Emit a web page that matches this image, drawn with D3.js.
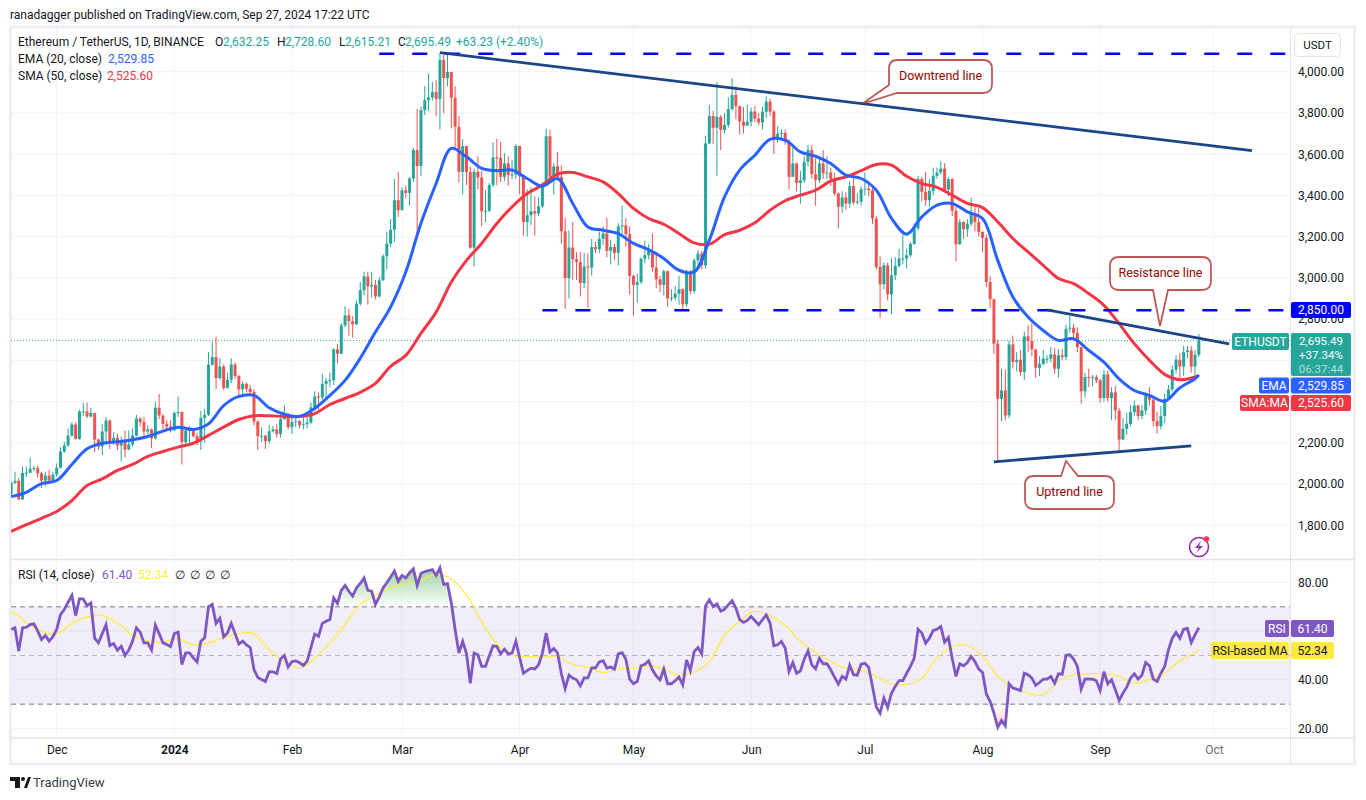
<!DOCTYPE html>
<html>
<head>
<meta charset="utf-8">
<title>ETHUSDT 1D</title>
<script src="https://cdn.jsdelivr.net/npm/d3@7"></script>
<style>
  html, body { margin: 0; padding: 0; background: #fff; }
  svg { display: block; font-family: Roboto, sans-serif; }
  .tick line { display: none; }
  .domain { display: none; }
</style>
</head>
<body>
<svg id="chart" width="1366" height="800"></svg>
<script>
// daily candles, first one is 19 Nov 2023, one value per day. open = previous close
const firstOpen = 1952;
const closes = [
  2006,2016,1925,2054,2055,2074,2077,2052,2017,2041,2017,2046,
  2080,2158,2187,2235,2289,2219,2352,2352,2328,2345,2216,2182,2255,2308,2203,2224,2187,2214,2167,2192,2235,2318,2300,2255,2265,2222,2370,2332,2292,2279,2260,
  2345,2349,2203,2260,2262,2232,2208,2321,2336,2579,2616,2514,2570,2465,2506,2580,2524,2459,2486,2462,2446,2303,2232,2234,2208,2256,2265,2243,2315,2340,2276,
  2300,2305,2285,2290,2298,2372,2425,2420,2486,2500,2505,2653,2632,2770,2818,2790,2775,2875,2940,3007,2959,2965,2910,2988,3105,3166,3234,3377,3328,
  3425,3412,3482,3620,3542,3814,3862,3875,3901,3868,4057,3969,3998,3874,3733,3514,3639,3514,3147,3514,3487,3323,3325,3450,3584,3582,3490,3555,3498,3501,3640,
  3493,3271,3304,3323,3312,3347,3450,3687,3490,3541,3490,3226,2999,3147,3090,3077,2975,3055,3050,3150,3139,3190,3215,3131,3150,3121,3250,3255,3212,3010,
  2966,2979,3093,3110,3130,3050,2993,2966,3032,2901,2903,2923,2945,2872,3028,2936,3085,3118,3061,3652,3785,3728,3781,3717,3741,3819,3887,3833,3758,3738,3757,
  3807,3773,3754,3806,3855,3806,3676,3700,3703,3660,3490,3555,3460,3473,3563,3620,3503,3474,3555,3506,3511,3480,3409,3345,3390,3360,3445,3366,3370,3430,
  3433,3425,3288,3053,2969,3061,2920,3012,3058,3094,3094,3110,3165,3240,3480,3417,3377,3422,3495,3511,3530,3428,3479,3325,3163,3271,3236,3263,3312,3271,3223,
  3194,2980,2896,2681,2413,2454,2333,2677,2592,2603,2543,2716,2694,2653,2564,2583,2608,2608,2629,2559,2624,2616,2753,2758,2733,2664,2450,2519,2518,2518,2503,
  2417,2532,2417,2445,2357,2216,2268,2292,2349,2381,2330,2357,2430,2409,2305,2281,2330,2413,2459,2555,2603,2570,2640,2648,2570,2627,2695.49
];
const highs = [
  2012,2060,2030,2085,2085,2129,2088,2090,2060,2060,2070,2060,
  2100,2178,2205,2270,2300,2300,2360,2395,2395,2370,2345,2220,2290,2325,2312,2252,2245,2230,2260,2260,2270,2335,2325,2325,2285,2270,2400,2438,2340,2310,2312,
  2350,2425,2352,2275,2280,2268,2250,2355,2365,2640,2690,2715,2610,2580,2540,2610,2590,2530,2497,2492,2480,2460,2310,2275,2240,2285,2282,2290,2342,2382,2345,
  2330,2325,2310,2335,2330,2395,2450,2445,2535,2515,2540,2660,2680,2780,2862,2850,2815,2890,2980,3030,3030,3030,2990,3005,3115,3223,3285,3480,3516,
  3440,3450,3490,3630,3820,3830,3930,3990,3950,3960,4090,4083,4085,3998,3930,3785,3672,3640,3540,3530,3590,3520,3425,3460,3658,3675,3660,3605,3590,3570,3648,
  3640,3498,3430,3440,3395,3390,3465,3725,3720,3555,3610,3545,3290,3230,3270,3125,3125,3120,3120,3190,3175,3225,3250,3290,3185,3165,3265,3350,3290,3250,
  3015,3020,3100,3180,3165,3215,3115,3010,3040,3035,2945,2960,3010,2950,3040,3040,3095,3135,3130,3690,3840,3810,3950,3790,3800,3875,3970,3930,3835,3830,3840,
  3825,3835,3800,3830,3880,3870,3815,3735,3720,3720,3672,3630,3560,3520,3590,3645,3645,3580,3590,3620,3590,3535,3510,3415,3420,3415,3470,3490,3410,3445,
  3510,3470,3442,3300,3105,3075,3075,3095,3100,3140,3210,3142,3175,3265,3495,3490,3515,3480,3535,3535,3565,3556,3490,3485,3345,3285,3275,3285,3390,3345,3340,
  3225,3210,3010,2900,2700,2560,2555,2695,2720,2640,2650,2740,2770,2780,2655,2620,2650,2625,2665,2660,2655,2655,2772,2815,2775,2760,2665,2540,2560,2530,2530,
  2510,2555,2550,2470,2475,2370,2320,2345,2385,2405,2385,2385,2445,2470,2420,2350,2378,2440,2480,2575,2625,2635,2670,2670,2670,2650,2728.6
];
const lows = [
  1940,2000,1925,1925,2035,2052,2062,2032,1980,1990,2010,2010,
  2036,2075,2150,2180,2230,2215,2215,2330,2320,2320,2155,2165,2140,2190,2170,2190,2165,2110,2130,2165,2180,2230,2280,2235,2240,2175,2215,2315,2265,2255,2250,
  2260,2325,2095,2190,2195,2225,2190,2165,2200,2330,2575,2460,2505,2455,2465,2490,2510,2415,2420,2445,2430,2285,2165,2205,2170,2195,2250,2225,2225,2312,2265,
  2242,2275,2270,2265,2270,2290,2355,2360,2410,2410,2470,2480,2585,2630,2760,2720,2710,2770,2865,2915,2870,2905,2895,2905,2985,3040,3150,3175,3295,
  3330,3385,3350,3465,3210,3495,3790,3810,3860,3785,3720,3800,3930,3725,3620,3463,3405,3450,3140,3055,3430,3250,3270,3320,3440,3450,3465,3470,3445,3480,3480,
  3405,3205,3200,3255,3205,3300,3340,3450,3485,3405,3480,3165,2850,2900,2990,2990,2910,2950,2855,3010,3120,3120,3160,3100,3065,3085,3060,3215,3150,2920,
  2815,2880,2970,3070,3090,3030,2950,2930,2915,2860,2885,2890,2870,2850,2860,2920,2925,3060,3040,3045,3650,3650,3495,3620,3700,3730,3810,3770,3695,3700,3740,
  3735,3755,3740,3720,3775,3785,3600,3655,3665,3645,3428,3500,3420,3360,3460,3540,3480,3350,3460,3480,3480,3445,3400,3240,3315,3330,3340,3355,3355,3350,
  3400,3395,3260,3040,2805,2945,2890,2825,2990,3050,3065,3045,3100,3160,3230,3370,3350,3345,3400,3480,3500,3415,3395,3300,3080,3160,3190,3200,3250,3225,3200,
  3125,2955,2855,2630,2105,2305,2310,2320,2560,2545,2525,2505,2640,2620,2515,2525,2575,2585,2590,2535,2515,2600,2600,2735,2710,2640,2390,2420,2470,2475,2490,
  2395,2400,2400,2310,2310,2150,2215,2240,2280,2330,2310,2315,2335,2380,2280,2245,2265,2295,2410,2450,2535,2500,2525,2610,2540,2525,2615.21
];

// moving averages read every 4 days from 19 Nov 2023, then the last value on 27 Sep
const emaValues = [
  1939,1960,2002,2017,2095,2171,2198,2205,2215,2231,2257,2276,2265,2292,2380,2425,2430,2370,2339,2329,
  2367,2430,2503,2610,2737,2859,3029,3265,3458,3628,3587,3531,3520,3523,3482,3445,3482,3361,3247,
  3231,3215,3167,3137,3094,3037,3029,3183,3393,3523,3595,3672,3668,3611,3590,3555,3498,3482,3425,
  3289,3212,3296,3353,3361,3320,3288,3085,2907,2810,2745,2697,2705,2648,2591,2510,2454,2430,2402,2467,2511,2529.85
];
const smaValues = [
  1771,1803,1834,1867,1920,1993,2025,2066,2095,2134,2158,2179,2198,2236,2276,2313,2331,2331,2328,2328,
  2342,2386,2415,2445,2488,2571,2624,2731,2834,2980,3085,3167,3264,3344,3409,3450,3503,3511,3490,
  3466,3409,3337,3288,3260,3215,3170,3163,3210,3231,3267,3328,3374,3401,3425,3470,3490,3520,3550,
  3547,3493,3458,3439,3401,3361,3341,3272,3191,3126,3061,2997,2972,2924,2867,2778,2681,2600,2532,2506,2519,2525.6
];

// RSI, one value per day, same days as the candles
const rsiValues = [
  60.7,61.4,51.8,61.4,61.6,62.7,63,60,56.6,58.2,55.9,57.7,
  60.7,66.8,68.9,71.9,74.7,66.4,73.3,73.3,70.5,71.6,57.1,55.2,59,62.7,54.1,54.9,52.2,53.8,50,52.2,55.9,61.4,59.6,55.2,55.2,52.2,62.5,59,55.2,54.5,53.6,
  59,59.6,46.3,51.1,51.1,49,47.3,55.9,57.3,70,71,63.2,65.3,57.7,59.3,63.2,59,54.7,55.9,54.4,53.3,44.2,41,40.1,39.3,43.3,43.3,42.6,48.6,50,45.3,
  47.5,47.8,47,45.9,47.7,53.2,58.8,57.9,63.2,64.1,64.8,73.7,71.4,76.8,78.8,76.4,74.4,77.8,79.6,81.9,76.8,76.4,71,74.1,77.8,
  79.9,82.3,84.7,80.5,82.9,81.9,84,85.6,78.8,83.7,84.5,84.9,85.3,82.9,86,79.2,79.5,71.6,60.7,51,55.8,50.7,38.6,51,50.3,45.5,45.5,49.9,54,53.7,50.7,
  52.6,50.7,51,55.9,49.3,42.7,43.8,44.8,44.5,46.2,51,59.2,51.4,52.9,51,42.5,36.4,41.9,40.7,40,37.5,40.8,40.8,44.9,44.9,47.4,47.9,44.8,45.3,44.4,
  50.7,51.2,48.5,40.3,38.4,39.3,45.8,46.4,47.8,44.1,41.6,40,44.4,38.4,38.4,39.6,41.1,37.9,48.2,43.8,51.6,53.3,50.7,70.4,72.9,70.1,71.2,68.2,69,70.8,72.5,
  69.5,64.7,63.6,64.4,66,64.4,62.6,64.7,66.7,63.3,54,54.4,55.8,53,43.4,47.1,42.7,43.7,48.5,51.9,46.2,44.5,48.9,46.6,46.6,44.1,41.1,38.2,41.4,40.3,
  46,42.1,41.9,46.4,46.8,45.1,37.3,28.8,26.3,32.5,28.6,34.5,37.3,39.7,39.7,42.7,45.5,48.9,60.8,59.2,55.1,57.1,60.3,60.8,61.9,55.5,57.4,48.9,41.4,46.6,45.8,
  47.1,49.6,47.5,44.4,43,34.2,31.1,26.3,20.5,23.3,21.1,38.4,36.6,36.2,35.6,42.7,42.1,40.7,37.7,38.9,40.3,40.3,41.4,38.6,42.5,42.3,50.1,50.3,48.5,45.5,36.2,
  40.3,40.4,40.3,39.6,35.6,43.4,38.4,40,35.9,31.5,34.5,37,40.7,42.5,40.3,41.9,47.1,45.8,40.3,39.3,42.7,45.5,52.3,57.1,59.5,57.1,60.8,61.1,55.3,58.5,61.4
];
const rsiMaValues = [
  68.2,63.7,60,59,63.2,65.9,66.4,63.4,58.2,55.9,55.6,56.8,54.4,55.2,57.3,59,59,52.2,47.3,44.9,
  48.6,55.2,62.7,71,74.7,77.8,79.6,81,83.3,81.4,74.9,64,54.8,50,49.6,49.3,49.6,46.3,45.2,
  43,44.4,44.8,45.6,44.4,41.9,43.3,47.5,58.5,64,68.2,66.3,62.2,55.8,51.2,47.5,44.8,44.1,41.4,
  38.4,38.1,40.7,48.9,53.7,54,49.9,41.4,37,34.5,33.8,39.6,42.1,42.5,42.5,41.4,38.6,40,42.7,47.9,51.2,52.34
];

const priceTicks = [1800,2000,2200,2400,2600,2800,3000,3200,3400,3600,3800,4000];
const priceLabels = [1800,2000,2200,2400,2800,3000,3200,3400,3600,3800,4000];
const rsiGrid = [20,40,60,80];
const rsiLabels = [20,40,80];
const monthLabels = ['Dec','2024','Feb','Mar','Apr','May','Jun','Jul','Aug','Sep','Oct'];
const monthDates = [
  new Date(Date.UTC(2023,11,1)), new Date(Date.UTC(2024,0,1)), new Date(Date.UTC(2024,1,1)),
  new Date(Date.UTC(2024,2,1)), new Date(Date.UTC(2024,3,1)), new Date(Date.UTC(2024,4,1)),
  new Date(Date.UTC(2024,5,1)), new Date(Date.UTC(2024,6,1)), new Date(Date.UTC(2024,7,1)),
  new Date(Date.UTC(2024,8,1)), new Date(Date.UTC(2024,9,1))
];

// drawn levels and trend lines: [date, price]
const topLevel = 4087, midLevel = 2843;
const downtrendLine = [[Date.UTC(2024,2,11),4092],[Date.UTC(2024,9,11),3617]];
const resistanceLine = [[Date.UTC(2024,7,18),2845],[Date.UTC(2024,9,5),2680]];
const uptrendLine = [[Date.UTC(2024,7,4),2108],[Date.UTC(2024,8,25),2185]];

const UP = '#26a69a', DOWN = '#ef5350', EMA = '#2962ff', SMA = '#f23645', RSI = '#7e57c2', RSIMA = '#ffeb3b';
const GRID = '#f0f3fa', TEXT = '#131722', LEVEL = '#0000ff', TREND = '#1c4587', NOTE = '#990000';

const firstDay = new Date(Date.UTC(2023,10,19));
const dayAt = i => d3.utcDay.offset(firstDay, i);

const x = d3.scaleUtc().domain([monthDates[0], monthDates[10]]).range([56.7, 1214]);
const y = d3.scaleLinear().domain([1800, 4000]).range([525.3, 71.7]);
const yr = d3.scaleLinear().domain([20, 80]).range([728.5, 582.5]);

const svg = d3.select('#chart');
const defs = svg.append('defs');
defs.append('clipPath').attr('id', 'pricePane').append('rect').attr('x', 11).attr('y', 28).attr('width', 1279).attr('height', 531);
defs.append('clipPath').attr('id', 'above70').append('rect').attr('x', 11).attr('y', 560).attr('width', 1279).attr('height', yr(70) - 560);
defs.append('clipPath').attr('id', 'below30').append('rect').attr('x', 11).attr('y', yr(30)).attr('width', 1279).attr('height', 737 - yr(30));

const obGrad = defs.append('linearGradient').attr('id', 'obFill').attr('gradientUnits', 'userSpaceOnUse')
  .attr('x1', 0).attr('x2', 0).attr('y1', 568).attr('y2', yr(70));
obGrad.append('stop').attr('offset', 0).attr('stop-color', '#4caf50').attr('stop-opacity', 0.55);
obGrad.append('stop').attr('offset', 1).attr('stop-color', '#4caf50').attr('stop-opacity', 0);
const osGrad = defs.append('linearGradient').attr('id', 'osFill').attr('gradientUnits', 'userSpaceOnUse')
  .attr('x1', 0).attr('x2', 0).attr('y1', yr(30)).attr('y2', 728);
osGrad.append('stop').attr('offset', 0).attr('stop-color', '#ff5252').attr('stop-opacity', 0);
osGrad.append('stop').attr('offset', 1).attr('stop-color', '#ff5252').attr('stop-opacity', 0.3);

// header line
svg.append('text').attr('x', 10).attr('y', 19).attr('font-size', 12).attr('fill', TEXT)
  .text('ranadagger published on TradingView.com, Sep 27, 2024 17:22 UTC');

// grid
svg.append('g').selectAll('line').data(priceTicks).join('line')
  .attr('x1', 11).attr('x2', 1290).attr('y1', d => y(d)).attr('y2', d => y(d))
  .attr('stroke', GRID).attr('stroke-width', 1);
svg.append('g').selectAll('line').data(rsiGrid).join('line')
  .attr('x1', 11).attr('x2', 1290).attr('y1', d => yr(d)).attr('y2', d => yr(d))
  .attr('stroke', GRID).attr('stroke-width', 1);
svg.append('g').selectAll('line').data(monthDates).join('line')
  .attr('x1', d => x(d)).attr('x2', d => x(d)).attr('y1', 28).attr('y2', 737)
  .attr('stroke', GRID).attr('stroke-width', 1);

// RSI band
svg.append('rect').attr('x', 11).attr('width', 1279).attr('y', yr(70)).attr('height', yr(30) - yr(70))
  .attr('fill', RSI).attr('fill-opacity', 0.1);

// frame
svg.append('rect').attr('x', 10.5).attr('y', 27).attr('width', 1344).attr('height', 737)
  .attr('fill', 'none').attr('stroke', '#eceef4').attr('stroke-width', 3);
svg.append('line').attr('x1', 1290.5).attr('x2', 1290.5).attr('y1', 28).attr('y2', 764).attr('stroke', '#e0e3eb');
svg.append('line').attr('x1', 11).attr('x2', 1354).attr('y1', 738).attr('y2', 738).attr('stroke', '#e0e3eb').attr('stroke-width', 1.5);
svg.append('line').attr('x1', 11).attr('x2', 1354).attr('y1', 559.5).attr('y2', 559.5).attr('stroke', '#e0e3eb').attr('stroke-width', 1.5);

// last price dotted line
svg.append('line').attr('x1', 11).attr('x2', 1290).attr('y1', y(2695.49)).attr('y2', y(2695.49))
  .attr('stroke', UP).attr('stroke-width', 1).attr('stroke-dasharray', '1 2');

// candles
const candles = closes.map((c, i) => ({
  date: dayAt(i), open: i === 0 ? firstOpen : closes[i - 1], close: c, high: highs[i], low: lows[i]
}));
const candleG = svg.append('g').attr('clip-path', 'url(#pricePane)');
candleG.selectAll('line').data(candles).join('line')
  .attr('x1', d => x(d.date)).attr('x2', d => x(d.date))
  .attr('y1', d => y(d.high)).attr('y2', d => y(d.low))
  .attr('stroke', d => d.close >= d.open ? UP : DOWN).attr('stroke-width', 1);
candleG.selectAll('rect').data(candles).join('rect')
  .attr('x', d => x(d.date) - 1.5).attr('width', 3)
  .attr('y', d => Math.min(y(d.open), y(d.close)))
  .attr('height', d => Math.max(1, Math.abs(y(d.open) - y(d.close))))
  .attr('fill', d => d.close >= d.open ? UP : DOWN);

// moving averages, sampled every 4 days with the last day added
const sampleDate = i => i === emaValues.length - 1 ? dayAt(closes.length - 1) : dayAt(i * 4);
const maLine = d3.line().x((d, i) => x(sampleDate(i))).y(d => y(d)).curve(d3.curveCatmullRom.alpha(0.5));
candleG.append('path').attr('d', maLine(smaValues)).attr('fill', 'none').attr('stroke', SMA).attr('stroke-width', 3);
candleG.append('path').attr('d', maLine(emaValues)).attr('fill', 'none').attr('stroke', EMA).attr('stroke-width', 3);

// levels
[[topLevel, 85], [midLevel, 128]].forEach(([p, startDay]) => {
  svg.append('line').attr('x1', x(d3.utcDay.offset(monthDates[0], startDay))).attr('x2', 1290)
    .attr('y1', y(p)).attr('y2', y(p))
    .attr('stroke', LEVEL).attr('stroke-width', 2.6).attr('stroke-dasharray', '15 18');
});

// trend lines
const trendPath = d3.line().x(d => x(new Date(d[0]))).y(d => y(d[1]));
[downtrendLine, resistanceLine, uptrendLine].forEach(l => {
  svg.append('path').attr('d', trendPath(l)).attr('fill', 'none').attr('stroke', TREND).attr('stroke-width', 2.8);
});

// callouts
function callout(d, tx, ty, label) {
  svg.append('path').attr('d', d).attr('fill', '#fff').attr('stroke', NOTE).attr('stroke-opacity', 0.65).attr('stroke-width', 1.8);
  svg.append('text').attr('x', tx).attr('y', ty).attr('text-anchor', 'middle').attr('font-size', 12.5).attr('fill', NOTE).text(label);
}
callout('M897 60 H983 Q992 60 992 69 V84 Q992 93 983 93 H897 L862 104 L889 85 V69 Q889 60 897 60 Z', 940.5, 80, 'Downtrend line');
callout('M1119 257 H1202 Q1211 257 1211 266 V281 Q1211 290 1202 290 H1168 L1160 326 L1153 290 H1119 Q1110 290 1110 281 V266 Q1110 257 1119 257 Z', 1160.5, 277, 'Resistance line');
callout('M1034 476 H1061 L1066 461 L1078 476 H1105 Q1114 476 1114 485 V500 Q1114 509 1105 509 H1034 Q1025 509 1025 500 V485 Q1025 476 1034 476 Z', 1069.5, 496, 'Uptrend line');

// lightning badge
svg.append('circle').attr('cx', 1199).attr('cy', 547).attr('r', 9.5).attr('fill', '#fff').attr('stroke', '#9c27b0').attr('stroke-width', 1.6);
svg.append('path').attr('d', 'M1201 541 L1195 548 H1199 L1196 553 L1203 546 H1199 Z').attr('fill', '#9c27b0');
svg.append('circle').attr('cx', 1206.5).attr('cy', 539).attr('r', 2.8).attr('fill', '#f23645');

// RSI guide lines
[[70, '#787b86'], [50, '#b2b5be'], [30, '#787b86']].forEach(([v, c]) => {
  svg.append('line').attr('x1', 11).attr('x2', 1290).attr('y1', yr(v)).attr('y2', yr(v))
    .attr('stroke', c).attr('stroke-width', 1).attr('stroke-dasharray', '5 4');
});

// RSI fills and lines
const rsiPoints = rsiValues.map((v, i) => ({ date: dayAt(i), v }));
const areaAt = level => d3.area().x(d => x(d.date)).y0(yr(level)).y1(d => yr(d.v));
svg.append('path').attr('d', areaAt(70)(rsiPoints)).attr('fill', 'url(#obFill)').attr('clip-path', 'url(#above70)');
svg.append('path').attr('d', areaAt(30)(rsiPoints)).attr('fill', 'url(#osFill)').attr('clip-path', 'url(#below30)');
const rsiMaLine = d3.line().x((d, i) => x(sampleDate(i))).y(d => yr(d)).curve(d3.curveCatmullRom.alpha(0.5));
svg.append('path').attr('d', rsiMaLine(rsiMaValues)).attr('fill', 'none').attr('stroke', RSIMA).attr('stroke-width', 1.2);
svg.append('path').attr('d', d3.line().x(d => x(d.date)).y(d => yr(d.v))(rsiPoints))
  .attr('fill', 'none').attr('stroke', RSI).attr('stroke-width', 2.8);

// axes
const priceAxis = d3.axisRight(y).tickValues(priceLabels).tickSize(0).tickPadding(0).tickFormat(d3.format(',.2f'));
const rsiAxis = d3.axisRight(yr).tickValues(rsiLabels).tickSize(0).tickPadding(0).tickFormat(d3.format('.2f'));
const timeAxis = d3.axisBottom(x).tickValues(monthDates).tickSize(0).tickPadding(0)
  .tickFormat((d, i) => monthLabels[i]);
[svg.append('g').attr('transform', 'translate(1298,0)').call(priceAxis),
 svg.append('g').attr('transform', 'translate(1298,0)').call(rsiAxis)].forEach(g => {
  g.selectAll('text').attr('font-size', 12).attr('fill', TEXT).attr('font-family', 'Roboto');
});
const timeG = svg.append('g').attr('transform', 'translate(0,745)').call(timeAxis);
timeG.selectAll('text').attr('font-size', 12).attr('font-family', 'Roboto')
  .attr('fill', (d, i) => monthLabels[i] === 'Oct' ? '#6a6d78' : TEXT)
  .attr('font-weight', (d, i) => monthLabels[i] === '2024' ? 700 : 400);

// tags on the price scale
function tag(xl, w, yc, h, fill, label, color) {
  svg.append('rect').attr('x', xl).attr('y', yc - h / 2).attr('width', w).attr('height', h).attr('rx', 2).attr('fill', fill);
  svg.append('text').attr('x', xl + w / 2).attr('y', yc + 4.2).attr('text-anchor', 'middle')
    .attr('font-size', 12).attr('fill', color || '#fff').text(label);
}
tag(1291, 60, 310, 16, LEVEL, '2,850.00');
tag(1232, 57, 341.5, 17, UP, 'ETHUSDT');
svg.append('rect').attr('x', 1291).attr('y', 333).attr('width', 60).attr('height', 43).attr('rx', 2).attr('fill', UP);
[['2,695.49', 345, 1], ['+37.34%', 359, 1], ['06:37:44', 373, 0.65]].forEach(([t, ty, o]) => {
  svg.append('text').attr('x', 1321).attr('y', ty).attr('text-anchor', 'middle').attr('font-size', 11.5)
    .attr('fill', '#fff').attr('fill-opacity', o).text(t);
});
tag(1259, 30, 385.5, 16, EMA, 'EMA');
tag(1291, 60, 385.5, 16, EMA, '2,529.85');
tag(1240, 49, 403, 16, SMA, 'SMA:MA');
tag(1291, 60, 403, 16, SMA, '2,525.60');
tag(1265, 24, 628.5, 17, RSI, 'RSI');
tag(1291, 43, 628.5, 17, RSI, '61.40');
tag(1211, 78, 650.5, 17, RSIMA, 'RSI-based MA', TEXT);
tag(1291, 43, 650.5, 17, RSIMA, '52.34', TEXT);

// currency box
svg.append('rect').attr('x', 1294.5).attr('y', 33.5).attr('width', 46).attr('height', 23).attr('rx', 4)
  .attr('fill', '#fff').attr('stroke', '#e0e3eb');
svg.append('text').attr('x', 1317.5).attr('y', 49).attr('text-anchor', 'middle').attr('font-size', 11.5).attr('fill', TEXT).text('USDT');

// legends
function legend(parts, ty) {
  parts.forEach(([t, tx, c]) => {
    svg.append('text').attr('x', tx).attr('y', ty).attr('font-size', 12).attr('fill', c).text(t);
  });
}
legend([['Ethereum / TetherUS, 1D, BINANCE', 18, TEXT], ['O', 215, TEXT], ['2,632.25', 223, UP], ['H', 277, TEXT], ['2,728.60', 285, UP],
  ['L', 339, TEXT], ['2,615.21', 345, UP], ['C', 398, TEXT], ['2,695.49', 405, UP], ['+63.23 (+2.40%)', 456, UP]], 46);
legend([['EMA (20, close)', 18, TEXT], ['2,529.85', 108, EMA]], 63);
legend([['SMA (50, close)', 18, TEXT], ['2,525.60', 107, SMA]], 80);
legend([['RSI (14, close)', 18, TEXT], ['61.40', 102, RSI], ['52.34', 138, RSIMA], ['∅', 175, TEXT], ['∅', 190, TEXT], ['∅', 205, TEXT], ['∅', 220, TEXT]], 579);

// TradingView mark
svg.append('path').attr('d', 'M10 777 H20 V788 H15 V781 H10 Z M24 788 L28 777 H31 L27 788 Z').attr('fill', TEXT);
svg.append('circle').attr('cx', 23).attr('cy', 779).attr('r', 2).attr('fill', TEXT);
svg.append('text').attr('x', 33).attr('y', 787).attr('font-size', 13).attr('fill', '#363a45').text('TradingView');
</script>
</body>
</html>
